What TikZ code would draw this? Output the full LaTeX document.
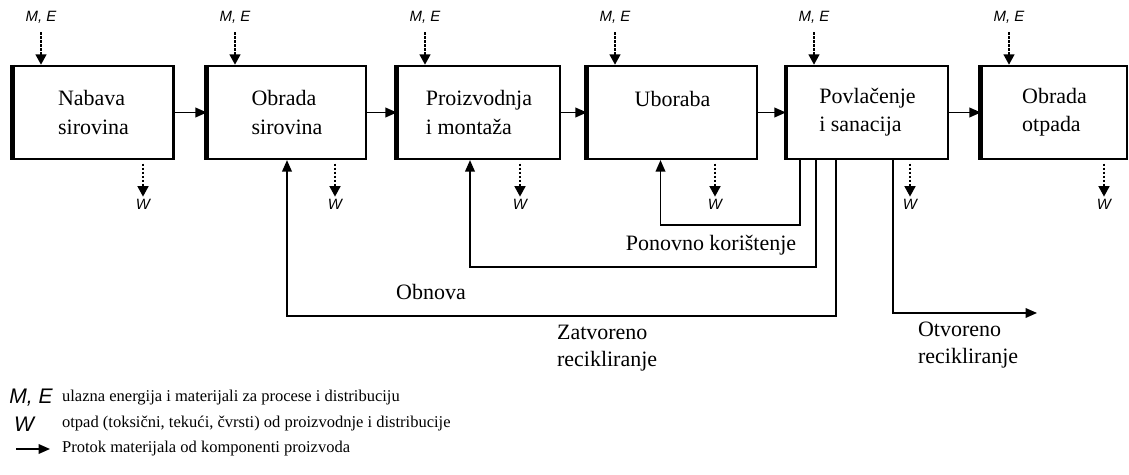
\documentclass[tikz,border=0pt]{standalone}
\usepackage{fontspec}
\setmainfont{Liberation Serif}
\setsansfont{Liberation Sans}
\usetikzlibrary{arrows.meta}

\begin{document}
\begin{tikzpicture}[x=0.02cm,y=-0.02cm]
\tikzstyle{stage}=[draw, line width=1.3pt, minimum width=3.2cm, minimum height=1.86cm, align=left, inner sep=0pt, font=\fontsize{12.5}{16}\selectfont]
\tikzstyle{flow}=[line width=0.8pt, -{Triangle[length=6.5pt,width=5.5pt]}]
\tikzstyle{aux}=[line width=1.6pt, dash pattern=on 1.4pt off 0.9pt, -{Triangle[length=6pt,width=6pt]}]
\tikzstyle{lbl}=[inner sep=1pt, font=\sffamily\itshape\fontsize{8.5}{10}\selectfont]
\tikzstyle{note}=[inner sep=1pt, align=left, font=\fontsize{12.5}{15}\selectfont]
\tikzstyle{key}=[inner sep=1pt, anchor=west, font=\fontsize{9.4}{11}\selectfont]
\useasboundingbox (0,0) rectangle (1129,475);
% stages
\node[stage] (b1) at (93.5,112.5) {Nabava\\sirovina};
\node[stage, minimum width=3.16cm] (b2) at (287,112.5) {Obrada\\sirovina};
\node[stage, minimum width=3.24cm] (b3) at (479,112.5) {Proizvodnja\\i monta\v{z}a};
\node[stage, minimum width=3.38cm] (b4) at (672.5,112.5) {Uboraba\\\mbox{}};
\node[stage, minimum width=3.22cm] (b5) at (867.5,112.5) {Povla\v{c}enje\\i sanacija};
\node[stage, minimum width=2.9cm] (b6) at (1054.5,112.5) {Obrada\\otpada};
\foreach \b in {b1,b2,b3,b4,b6}
  \draw[line width=2.8pt] (\b.north west) -- (\b.south west);
\draw[line width=2.2pt] (b5.north west) -- (b5.south west);
% main flow
\draw[flow] (b1) -- (b2);
\draw[flow] (b2) -- (b3);
\draw[flow] (b3) -- (b4);
\draw[flow] (b4) -- (b5);
\draw[flow] (b5) -- (b6);
% inputs M, E
\node[lbl] (me1) at (41,17) {M, E};
\node[lbl] (me2) at (235,17) {M, E};
\node[lbl] (me3) at (425,17) {M, E};
\node[lbl] (me4) at (615,17) {M, E};
\node[lbl] (me5) at (814,17) {M, E};
\node[lbl] (me6) at (1009,17) {M, E};
\draw[aux, shorten <=4pt] (me1.south) -- (me1.south |- b1.north);
\draw[aux, shorten <=4pt] (me2.south) -- (me2.south |- b2.north);
\draw[aux, shorten <=4pt] (me3.south) -- (me3.south |- b3.north);
\draw[aux, shorten <=4pt] (me4.south) -- (me4.south |- b4.north);
\draw[aux, shorten <=4pt] (me5.south) -- (me5.south |- b5.north);
\draw[aux, shorten <=4pt] (me6.south) -- (me6.south |- b6.north);
% waste W
\node[lbl] (w1) at (143,204) {W};
\node[lbl] (w2) at (335,204) {W};
\node[lbl] (w3) at (520,204) {W};
\node[lbl] (w4) at (715,204) {W};
\node[lbl] (w5) at (910,204) {W};
\node[lbl] (w6) at (1104,204) {W};
\draw[aux, shorten <=2pt] (w1.north |- b1.south) -- (w1.north);
\draw[aux, shorten <=2pt] (w2.north |- b2.south) -- (w2.north);
\draw[aux, shorten <=2pt] (w3.north |- b3.south) -- (w3.north);
\draw[aux, shorten <=2pt] (w4.north |- b4.south) -- (w4.north);
\draw[aux, shorten <=2pt] (w5.north |- b5.south) -- (w5.north);
\draw[aux, shorten <=2pt] (w6.north |- b6.south) -- (w6.north);
% returns
\coordinate (r1) at (800,159);
\coordinate (r2) at (816,159);
\coordinate (r3) at (836,159);
\coordinate (r4) at (893,159);
\coordinate (r5) at (1037,313);
\draw[flow] (r1) -- ++(0,66) -| ([xshift=-0.24cm]b4.south);
\draw[flow] (r2) -- ++(0,108) -| ([xshift=-0.18cm]b3.south);
\draw[flow] (r3) -- ++(0,157) -| (b2.south);
\draw[flow] (r4) |- (r5);
\node[note] (pk) at (711,245) {Ponovno kori\v{s}tenje};
\node[note] (ob) at (431,292) {Obnova};
\node[note, anchor=west] (zr) at (555,348) {Zatvoreno\\recikliranje};
\node[note, anchor=west] (or) at (916,345) {Otvoreno\\recikliranje};
% legend
\node[lbl, font=\sffamily\itshape\fontsize{12}{14}\selectfont] (kme) at (31,398) {M, E};
\node[lbl, font=\sffamily\itshape\fontsize{12}{14}\selectfont] (kw) at (24,424) {W};
\coordinate (ka) at (16,449);
\coordinate (kb) at (50,449);
\draw[flow] (ka) -- (kb);
\node[key] (t1) at (60,398) {ulazna energija i materijali za procese i distribuciju};
\node[key] (t2) at (60,424) {otpad (toksi\v{c}ni, teku\'{c}i, \v{c}vrsti) od proizvodnje i distribucije};
\node[key] (t3) at (60,449) {Protok materijala od komponenti proizvoda};
\end{tikzpicture}
\end{document}
